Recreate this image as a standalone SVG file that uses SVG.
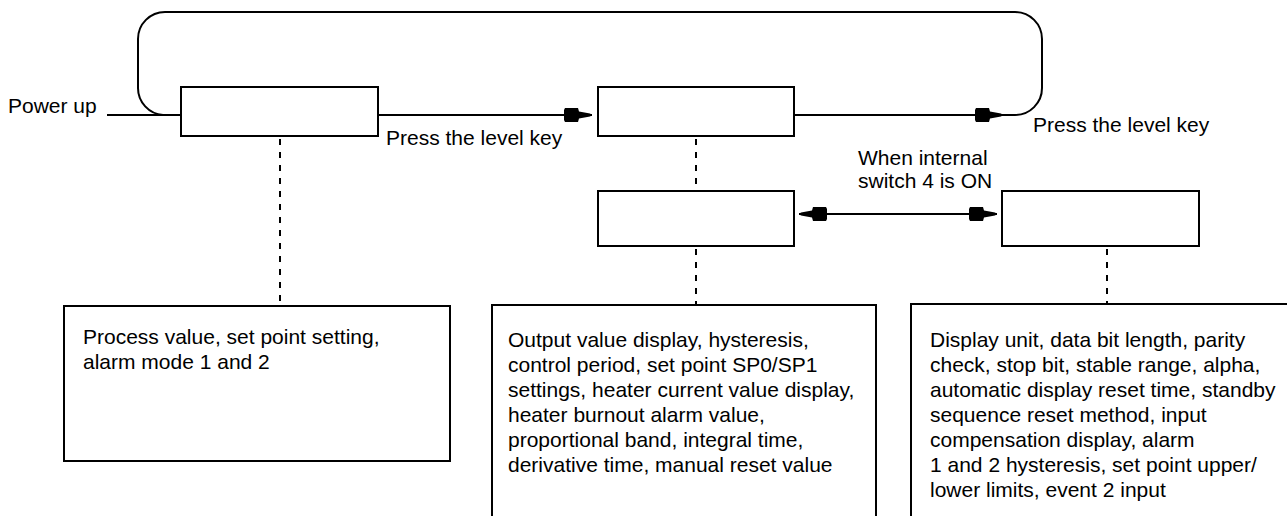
<svg xmlns="http://www.w3.org/2000/svg" width="1287" height="516" viewBox="0 0 1287 516">
<style>
.box{fill:#fff;stroke:#000;stroke-width:2}
.ln{fill:none;stroke:#000;stroke-width:2}
.dash{fill:none;stroke:#000;stroke-width:2;stroke-dasharray:6 7}
text{font-family:"Liberation Sans",Arial,sans-serif;font-size:21px;fill:#000}
</style>
<defs>
<marker id="ah" markerUnits="userSpaceOnUse" viewBox="-30 -9 32 18" markerWidth="32" markerHeight="18" refX="0" refY="0" orient="auto-start-reverse" overflow="visible">
<path d="M0,0 L-2,-1.5 L-13,-3.5 L-14,-7 L-27,-7 L-28,-5 L-28,5 L-27,7 L-14,7 L-13,3.5 L-2,1.5 Z" fill="#000"/>
</marker>
</defs>
<g id="connectors">
<path class="ln" d="M107,115 H181"/>
<path class="ln" d="M378,115 H592" marker-end="url(#ah)"/>
<path class="ln" d="M794,115 H1003" marker-end="url(#ah)"/>
<path class="ln" d="M1003,115 H1015 A27,27 0 0 0 1042,88 V39 A27,27 0 0 0 1015,12 H165 A27,27 0 0 0 138,39 V88 A27,27 0 0 0 163,115"/>
<path class="ln" d="M799,214 H997" marker-start="url(#ah)" marker-end="url(#ah)"/>
<path class="dash" d="M280,139 V306"/>
<path class="dash" d="M696,139 V191"/>
<path class="dash" d="M696,249 V305"/>
<path class="dash" d="M1107,249 V304"/>
</g>
<g id="label-powerup"><text x="8" y="113">Power up</text></g>
<g id="label-press1"><text x="386" y="145">Press the level key</text></g>
<g id="label-press2"><text x="1033" y="132">Press the level key</text></g>
<g id="label-switch"><text x="858" y="165">When internal</text><text x="858" y="188">switch 4 is ON</text></g>
<g id="node-level0"><rect class="box" x="181" y="87" width="197" height="49"/></g>
<g id="node-level1"><rect class="box" x="598" y="87" width="196" height="49"/></g>
<g id="node-level1b"><rect class="box" x="598" y="191" width="196" height="55"/></g>
<g id="node-level2"><rect class="box" x="1002" y="191" width="197" height="55"/></g>
<g id="node-desc0"><rect class="box" x="64" y="306" width="386" height="155"/>
<text x="83" y="344">Process value, set point setting,</text>
<text x="83" y="369">alarm mode 1 and 2</text></g>
<g id="node-desc1"><rect class="box" x="492" y="305" width="384" height="220"/>
<text x="508" y="347">Output value display, hysteresis,</text>
<text x="508" y="372">control period, set point SP0/SP1</text>
<text x="508" y="397">settings, heater current value display,</text>
<text x="508" y="422">heater burnout alarm value,</text>
<text x="508" y="447">proportional band, integral time,</text>
<text x="508" y="472">derivative time, manual reset value</text></g>
<g id="node-desc2"><rect class="box" x="911" y="304" width="390" height="220"/>
<text x="930" y="347">Display unit, data bit length, parity</text>
<text x="930" y="372">check, stop bit, stable range, alpha,</text>
<text x="930" y="397">automatic display reset time, standby</text>
<text x="930" y="422">sequence reset method, input</text>
<text x="930" y="447">compensation display, alarm</text>
<text x="930" y="472">1 and 2 hysteresis, set point upper/</text>
<text x="930" y="497">lower limits, event 2 input</text></g>
</svg>
